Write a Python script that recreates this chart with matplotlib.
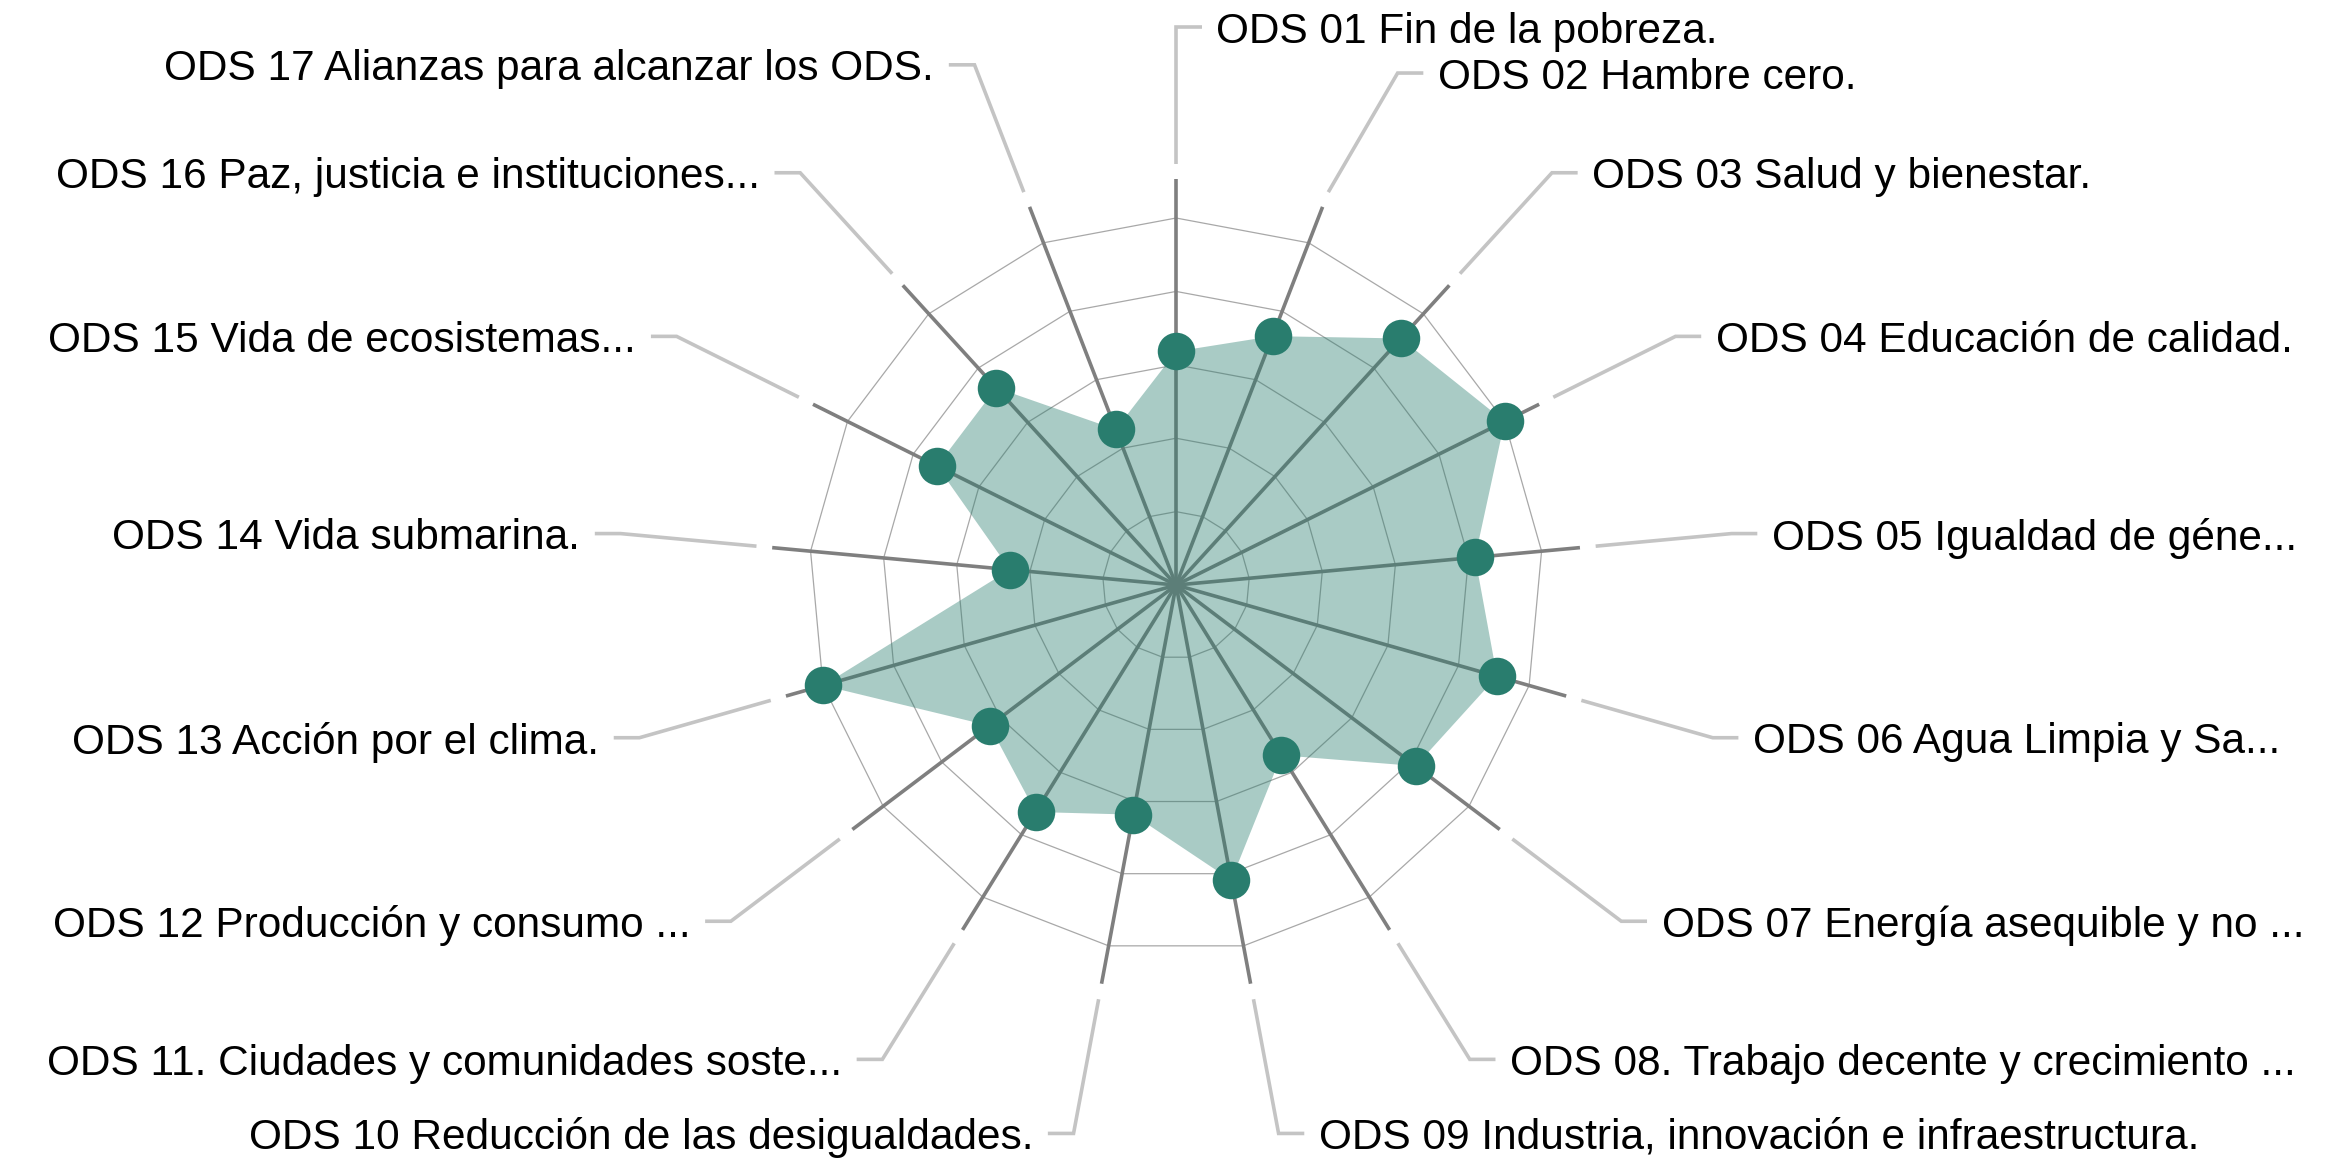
import matplotlib.pyplot as plt
import numpy as np

plt.rcParams['font.family'] = ['Liberation Sans', 'DejaVu Sans']

labels = [
    'ODS 01 Fin de la pobreza.',
    'ODS 02 Hambre cero.',
    'ODS 03 Salud y bienestar.',
    'ODS 04 Educación de calidad.',
    'ODS 05 Igualdad de géne...',
    'ODS 06 Agua Limpia y Sa...',
    'ODS 07 Energía asequible y no ...',
    'ODS 08. Trabajo decente y crecimiento ...',
    'ODS 09 Industria, innovación e infraestructura.',
    'ODS 10 Reducción de las desigualdades.',
    'ODS 11. Ciudades y comunidades soste...',
    'ODS 12 Producción y consumo ...',
    'ODS 13 Acción por el clima.',
    'ODS 14 Vida submarina.',
    'ODS 15 Vida de ecosistemas...',
    'ODS 16 Paz, justicia e instituciones...',
    'ODS 17 Alianzas para alcanzar los ODS.',
]
values = [7, 8, 10, 11, 9, 10, 9, 6, 9, 7, 8, 7, 11, 5, 8, 8, 5]
max_value = 11
n_rings = 5

teal = '#297d6e'
spoke_color = '#7f7f7f'
leader_color = '#c4c4c4'
ring_color = '#a8a8a8'

n = len(labels)
# clockwise from the top
ang = np.arange(n) * 2 * np.pi / n
ux = np.sin(ang)
uy = np.cos(ang)

fig = plt.figure(figsize=(23.47, 11.69), dpi=100)
ax = fig.add_axes([0, 0, 1, 1])
ax.set_xlim(-3.204, 3.19)
ax.set_ylim(-1.591, 1.594)
ax.axis('off')

# grid rings
for k in range(1, n_rings + 1):
    r = k / n_rings
    ax.plot(np.append(ux, ux[0]) * r, np.append(uy, uy[0]) * r,
            color=ring_color, lw=0.9, zorder=1)

# spokes
for i in range(n):
    ax.plot([0, ux[i] * 1.105], [0, uy[i] * 1.105], color=spoke_color,
            lw=2.6, solid_capstyle='butt', zorder=2)

# filled area and points
r_val = np.array(values) / max_value
px = ux * r_val
py = uy * r_val
ax.fill(px, py, color=teal, alpha=0.4, lw=0, zorder=3)
ax.plot(px, py, 'o', color=teal, ms=27, mec='none', zorder=4)

# leader lines and labels; push a label down along the circle if it
# would run into the one above it on the same side
r_lab = 1.52
gap = 0.125
elbow_x = ux * r_lab
elbow_y = uy * r_lab
right = ux >= -1e-9
last_right = None
for i in range(n):
    if right[i]:
        if last_right is not None and last_right - elbow_y[i] < gap:
            elbow_y[i] = last_right - gap
            elbow_x[i] = np.sqrt(r_lab ** 2 - elbow_y[i] ** 2)
        last_right = elbow_y[i]

for i in range(n):
    side = 1 if right[i] else -1
    x0, y0 = ux[i] * 1.148, uy[i] * 1.148
    x1, y1 = elbow_x[i], elbow_y[i]
    x2 = x1 + side * 0.07
    ax.plot([x0, x1, x2], [y0, y1, y1], color=leader_color, lw=2.6,
            solid_capstyle='butt', solid_joinstyle='miter', zorder=2)
    ax.text(x2 + side * 0.04, y1, labels[i], fontsize=30.5, color='black',
            ha='left' if right[i] else 'right', va='center_baseline')

fig.savefig('out.png', dpi=100, facecolor='white')
